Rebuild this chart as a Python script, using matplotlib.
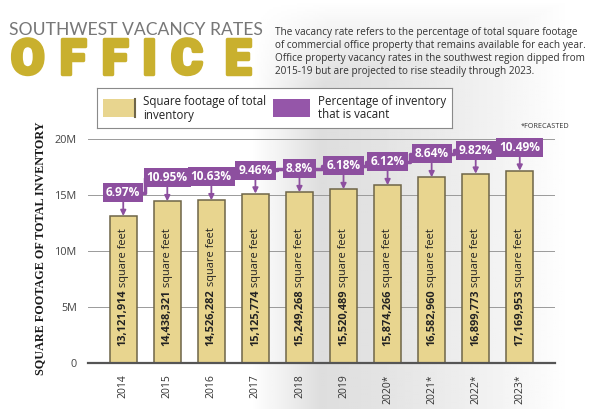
import numpy as np
import matplotlib

matplotlib.use("Agg")
import matplotlib.pyplot as plt
import matplotlib.patheffects as pe
from matplotlib.patches import Rectangle

# data
years = ["2014", "2015", "2016", "2017", "2018", "2019", "2020*", "2021*", "2022*", "2023*"]
sq_feet = [13121914, 14438321, 14526282, 15125774, 15249268, 15520489,
           15874266, 16582960, 16899773, 17169953]
vacancy = [6.97, 10.95, 10.63, 9.46, 8.8, 6.18, 6.12, 8.64, 9.82, 10.49]
y_ticks = [0, 5e6, 10e6, 15e6, 20e6]
y_tick_labels = ["0", "5M", "10M", "15M", "20M"]

BAR = "#e8d58f"
BAR_EDGE = "#6e6548"
PURPLE = "#8d4f9f"
GOLD = "#c9b02e"
FONT = "Open Sans"

W, H = 600, 409
fig = plt.figure(figsize=(W / 100, H / 100), dpi=100)


def px(x, y):
    return x / W, 1 - y / H


# soft grey background in place of the photo
bg = fig.add_axes([0, 0, 1, 1], zorder=-10)
gx = np.linspace(0, 1, 300)
gy = np.linspace(0, 1, 200)
GX, GY = np.meshgrid(gx, gy)
shade = 0.86 + 0.14 * np.clip((GX - 0.45) / 0.5, 0, 1) ** 1.5
shade = np.maximum(shade, 1 - np.clip(GY / 0.22, 0, 1) * np.clip((GX - 0.42) * 8, 0, 1) * 0.14)
bg.imshow(shade, cmap="gray", vmin=0, vmax=1, aspect="auto", extent=[0, 1, 0, 1])
bg.axis("off")

# headline
fig.text(*px(9, 30), "SOUTHWEST VACANCY RATES", fontsize=12.6, color="#777777",
         family="Lato", weight="normal", va="center", ha="left")
for ch, left in zip("OFFICE", (11, 59, 101, 142, 171, 224)):
    fig.text(*px(left, 61), ch, fontsize=35, color=GOLD,
             family="Roboto", weight="black", va="center", ha="left",
             path_effects=[pe.withStroke(linewidth=2.5, foreground=GOLD)])

blurb = ("The vacancy rate refers to the percentage of total square footage\n"
         "of commercial office property that remains available for each year.\n"
         "Office property vacancy rates in the southwest region dipped from\n"
         "2015-19 but are projected to rise steadily through 2023.")
fig.text(*px(275, 27), blurb, fontsize=7.2, color="#333333", family=FONT,
         va="top", ha="left", linespacing=1.25)

# legend box
lg = fig.add_axes([97 / W, 1 - 128 / H, 355 / W, 40 / H], zorder=5)
lg.set_xlim(0, 355)
lg.set_ylim(40, 0)
lg.set_xticks([])
lg.set_yticks([])
lg.set_facecolor("white")
for s in lg.spines.values():
    s.set_color("#8a8a8a")
    s.set_linewidth(0.8)
lg.add_patch(Rectangle((6, 11), 32, 18, facecolor=BAR, edgecolor="none"))
lg.plot([38, 38], [11, 29], color=BAR_EDGE, lw=1.5)
lg.text(46, 20, "Square footage of total\ninventory", fontsize=8.3, family=FONT,
        color="#222222", va="center", linespacing=1.1)
lg.add_patch(Rectangle((176, 11), 37, 18, facecolor="#9556a9", edgecolor="none"))
lg.text(221, 20, "Percentage of inventory\nthat is vacant", fontsize=8.3, family=FONT,
        color="#222222", va="center", linespacing=1.1)

fig.text(*px(521, 127), "*FORECASTED", fontsize=5.2, color="#333333", family=FONT,
         va="center", ha="left")

# main chart
ax = fig.add_axes([88 / W, 1 - 363 / H, 467 / W, 224 / H])
ax.patch.set_alpha(0)
x = np.arange(len(years))
ax.bar(x, sq_feet, width=0.62, color=BAR, edgecolor=BAR_EDGE, linewidth=1.1, zorder=3)
ax.set_xlim(-0.8, len(years) - 0.2)
ax.set_ylim(0, 20e6)
ax.set_yticks(y_ticks)
ax.set_yticklabels(y_tick_labels, fontsize=7.8, family=FONT, color="#444444")
ax.set_xticks(x)
ax.set_xticklabels(years, rotation=90, fontsize=7.5, family=FONT, color="#333333")
ax.tick_params(axis="both", length=0, pad=8)
ax.grid(axis="y", color="#9a9a9a", lw=0.7, zorder=0)
for s in ("top", "right", "left"):
    ax.spines[s].set_visible(False)
ax.spines["bottom"].set_color("#555555")
ax.spines["bottom"].set_linewidth(1.6)
ax.spines["bottom"].set_zorder(4)

# values inside bars
for i, v in enumerate(sq_feet):
    t = ax.text(i, 1.5e6, f"{v:,}", rotation=90, ha="center", va="bottom",
                fontsize=7.9, weight="bold", family=FONT, color="#222222", zorder=5)
    ax.annotate(" square feet", xy=(0.5, 1), xycoords=t, rotation=90,
                ha="center", va="bottom", fontsize=7.9, family=FONT,
                color="#222222", zorder=5)

# vacancy labels with arrows
label_y = [v + 2.1e6 for v in sq_feet]
ax.step(x, label_y, where="mid", color=PURPLE, lw=2.5, zorder=5, clip_on=False)
for i, (v, p) in enumerate(zip(sq_feet, vacancy)):
    ax.annotate(f"{p:g}%", xy=(i, v), xytext=(i, label_y[i]),
                ha="center", va="center", fontsize=8.6, weight="bold",
                family=FONT, color="white", zorder=6, annotation_clip=False,
                bbox=dict(boxstyle="square,pad=0.25", fc=PURPLE, ec="none"),
                arrowprops=dict(arrowstyle="-|>", color=PURPLE, lw=1.3,
                                mutation_scale=8, shrinkA=0, shrinkB=0))

fig.text(*px(40, 248), "SQUARE FOOTAGE OF TOTAL INVENTORY", rotation=90,
         fontsize=8.7, weight="bold", family="Liberation Serif", color="#1a1a1a",
         ha="center", va="center")

fig.savefig("out.png", dpi=100)
